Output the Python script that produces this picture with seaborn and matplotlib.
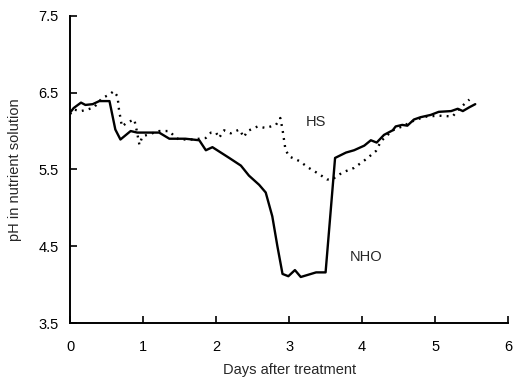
import numpy as np
import pandas as pd
import matplotlib
matplotlib.use("Agg")
import matplotlib.pyplot as plt
import seaborn as sns

# NHO (solid line)
nho_days = [0.0, 0.05, 0.15, 0.21, 0.31, 0.40, 0.54, 0.62, 0.69, 0.83, 0.92, 1.22, 1.36,
            1.58, 1.77, 1.86, 1.95, 2.18, 2.34, 2.45, 2.59, 2.68, 2.77, 2.84, 2.91, 2.99,
            3.08, 3.16, 3.37, 3.50, 3.63, 3.78, 3.89, 4.03, 4.12, 4.20, 4.30, 4.42, 4.46,
            4.55, 4.62, 4.71, 4.80, 4.94, 5.05, 5.22, 5.31, 5.38, 5.47, 5.55]
nho_ph = [6.24, 6.30, 6.37, 6.34, 6.35, 6.39, 6.39, 6.02, 5.89, 6.00, 5.98, 5.98, 5.90,
          5.90, 5.88, 5.75, 5.79, 5.65, 5.55, 5.42, 5.30, 5.20, 4.89, 4.50, 4.14, 4.11,
          4.19, 4.10, 4.16, 4.16, 5.65, 5.72, 5.75, 5.81, 5.88, 5.85, 5.95, 6.01, 6.06,
          6.08, 6.07, 6.15, 6.18, 6.21, 6.25, 6.26, 6.29, 6.26, 6.31, 6.35]

# HS (dotted line)
hs_days = [0.0, 0.05, 0.15, 0.24, 0.33, 0.44, 0.53, 0.60, 0.65, 0.67, 0.71, 0.78, 0.88,
           0.91, 0.95, 0.99, 1.22, 1.36, 1.42, 1.49, 1.68, 1.86, 1.93, 2.00, 2.04, 2.11,
           2.20, 2.32, 2.38, 2.43, 2.57, 2.68, 2.82, 2.88, 2.91, 2.95, 3.00, 3.14, 3.27,
           3.41, 3.52, 3.59, 3.73, 3.89, 4.05, 4.19, 4.26, 4.42, 4.55, 4.74, 4.89, 5.05,
           5.24, 5.33, 5.47]
hs_ph = [6.22, 6.28, 6.26, 6.28, 6.31, 6.43, 6.47, 6.52, 6.45, 6.28, 6.06, 6.11, 6.15,
         6.02, 5.82, 5.93, 6.00, 6.00, 5.94, 5.89, 5.89, 5.91, 5.98, 5.98, 5.91, 6.01,
         5.97, 6.02, 5.92, 6.00, 6.06, 6.04, 6.08, 6.17, 6.02, 5.76, 5.67, 5.61, 5.52,
         5.44, 5.37, 5.37, 5.46, 5.52, 5.63, 5.74, 5.87, 6.01, 6.06, 6.15, 6.19, 6.20,
         6.19, 6.29, 6.41]

df = pd.concat([
    pd.DataFrame({"day": nho_days, "ph": nho_ph, "group": "NHO"}),
    pd.DataFrame({"day": hs_days, "ph": hs_ph, "group": "HS"}),
])

sns.set_style("ticks")
plt.rcParams["font.family"] = ["Liberation Sans", "DejaVu Sans"]

fig = plt.figure(figsize=(5.19, 3.86), dpi=100)
ax = fig.add_axes([0.135, 0.163, 0.844, 0.796])

sns.lineplot(data=df[df.group == "NHO"], x="day", y="ph", color="black",
             linewidth=1.7, ax=ax, legend=False, sort=False)
sns.lineplot(data=df[df.group == "HS"], x="day", y="ph", color="black",
             linewidth=1.7, linestyle=(0, (0.8, 2.2)), ax=ax, legend=False, sort=False)

ax.text(3.37, 6.12, "HS", fontsize=10.5, ha="center", va="center")
ax.text(4.05, 4.36, "NHO", fontsize=10.5, ha="center", va="center")

ax.set_xlim(0, 6)
ax.set_ylim(3.5, 7.5)
ax.set_xticks([0, 1, 2, 3, 4, 5, 6])
ax.set_yticks([3.5, 4.5, 5.5, 6.5, 7.5])
ax.set_xticklabels(["0", "1", "2", "3", "4", "5", "6"])
ax.set_yticklabels(["3.5", "4.5", "5.5", "6.5", "7.5"])
ax.tick_params(direction="in", length=5, width=1.2, labelsize=10.5, colors="black")
ax.tick_params(axis="x", pad=12)
ax.tick_params(axis="y", pad=8)
ax.set_xlabel("Days after treatment", fontsize=10.5, labelpad=7)
ax.set_ylabel("pH in nutrient solution", fontsize=10.5, labelpad=12)
sns.despine(ax=ax)
for s in ["left", "bottom"]:
    ax.spines[s].set_linewidth(1.4)
    ax.spines[s].set_color("black")

fig.savefig("out.png", dpi=100)
